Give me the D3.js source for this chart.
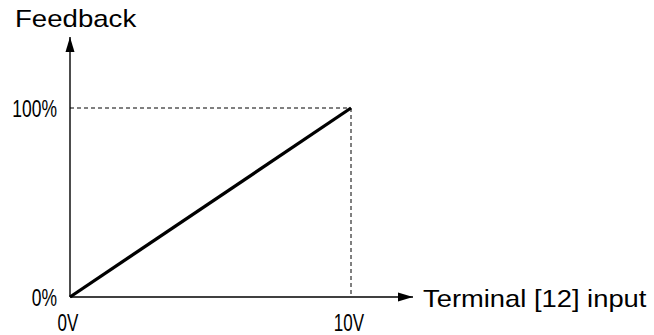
<!DOCTYPE html>
<html><head><meta charset="utf-8">
<script src="https://cdn.jsdelivr.net/npm/d3@7"></script>
<style>body{margin:0;background:#fff}</style>
</head><body>
<svg id="c" width="654" height="335"></svg>
<script>
const xValues = [0, 10];           // volts
const yValues = [0, 100];          // percent feedback
const xTickLabels = ["0V", "10V"];
const yTickLabels = ["0%", "100%"];
const xTitle = "Terminal [12] input";
const yTitle = "Feedback";

const svg = d3.select("#c");
const x = d3.scaleLinear().domain([0, 10]).range([70, 351]);
const y = d3.scaleLinear().domain([0, 100]).range([297, 108]);

svg.append("defs").append("marker").attr("id","ah").attr("viewBox","0 0 15 10")
  .attr("refX",15).attr("refY",5).attr("markerWidth",15).attr("markerHeight",10)
  .attr("markerUnits","userSpaceOnUse").attr("orient","auto")
  .append("path").attr("d","M0,0.5 L15,5 L0,9.5 Z").attr("fill","#000");

// dashed guides
svg.append("line").attr("x1",x(0)).attr("x2",x(10)).attr("y1",y(100)).attr("y2",y(100))
  .attr("stroke","#000").attr("stroke-width",1).attr("stroke-dasharray","4,3");
svg.append("line").attr("x1",x(10)).attr("x2",x(10)).attr("y1",y(100)).attr("y2",y(0))
  .attr("stroke","#000").attr("stroke-width",1).attr("stroke-dasharray","4,3");

// axes
svg.append("line").attr("x1",x(0)).attr("y1",y(0)).attr("x2",x(0)).attr("y2",37)
  .attr("stroke","#000").attr("stroke-width",1.4).attr("marker-end","url(#ah)");
svg.append("line").attr("x1",x(0)).attr("y1",y(0)).attr("x2",413).attr("y2",y(0))
  .attr("stroke","#000").attr("stroke-width",1.4).attr("marker-end","url(#ah)");

// data line
svg.append("path").datum(xValues.map((v,i)=>[v,yValues[i]]))
  .attr("d", d3.line().x(d=>x(d[0])).y(d=>y(d[1])))
  .attr("stroke","#000").attr("stroke-width",3.3).attr("fill","none");

const font = "Arial,'Liberation Sans',sans-serif";
function label(px, py, txt, size, sx, anchor){
  svg.append("text").attr("transform",`translate(${px},${py}) scale(${sx},1)`)
    .attr("text-anchor",anchor).attr("font-family",font).attr("font-size",size).text(txt);
}
yValues.forEach((d,i)=>label(x(0)-13, y(d)+9, yTickLabels[i], 23, 0.76, "end"));
xValues.forEach((d,i)=>label(x(d)-2, 331, xTickLabels[i], 23, 0.74, "middle"));
label(15, 27, yTitle, 24, 1.15, "start");
label(423, 307, xTitle, 24, 1.14, "start");
</script>
</body></html>
